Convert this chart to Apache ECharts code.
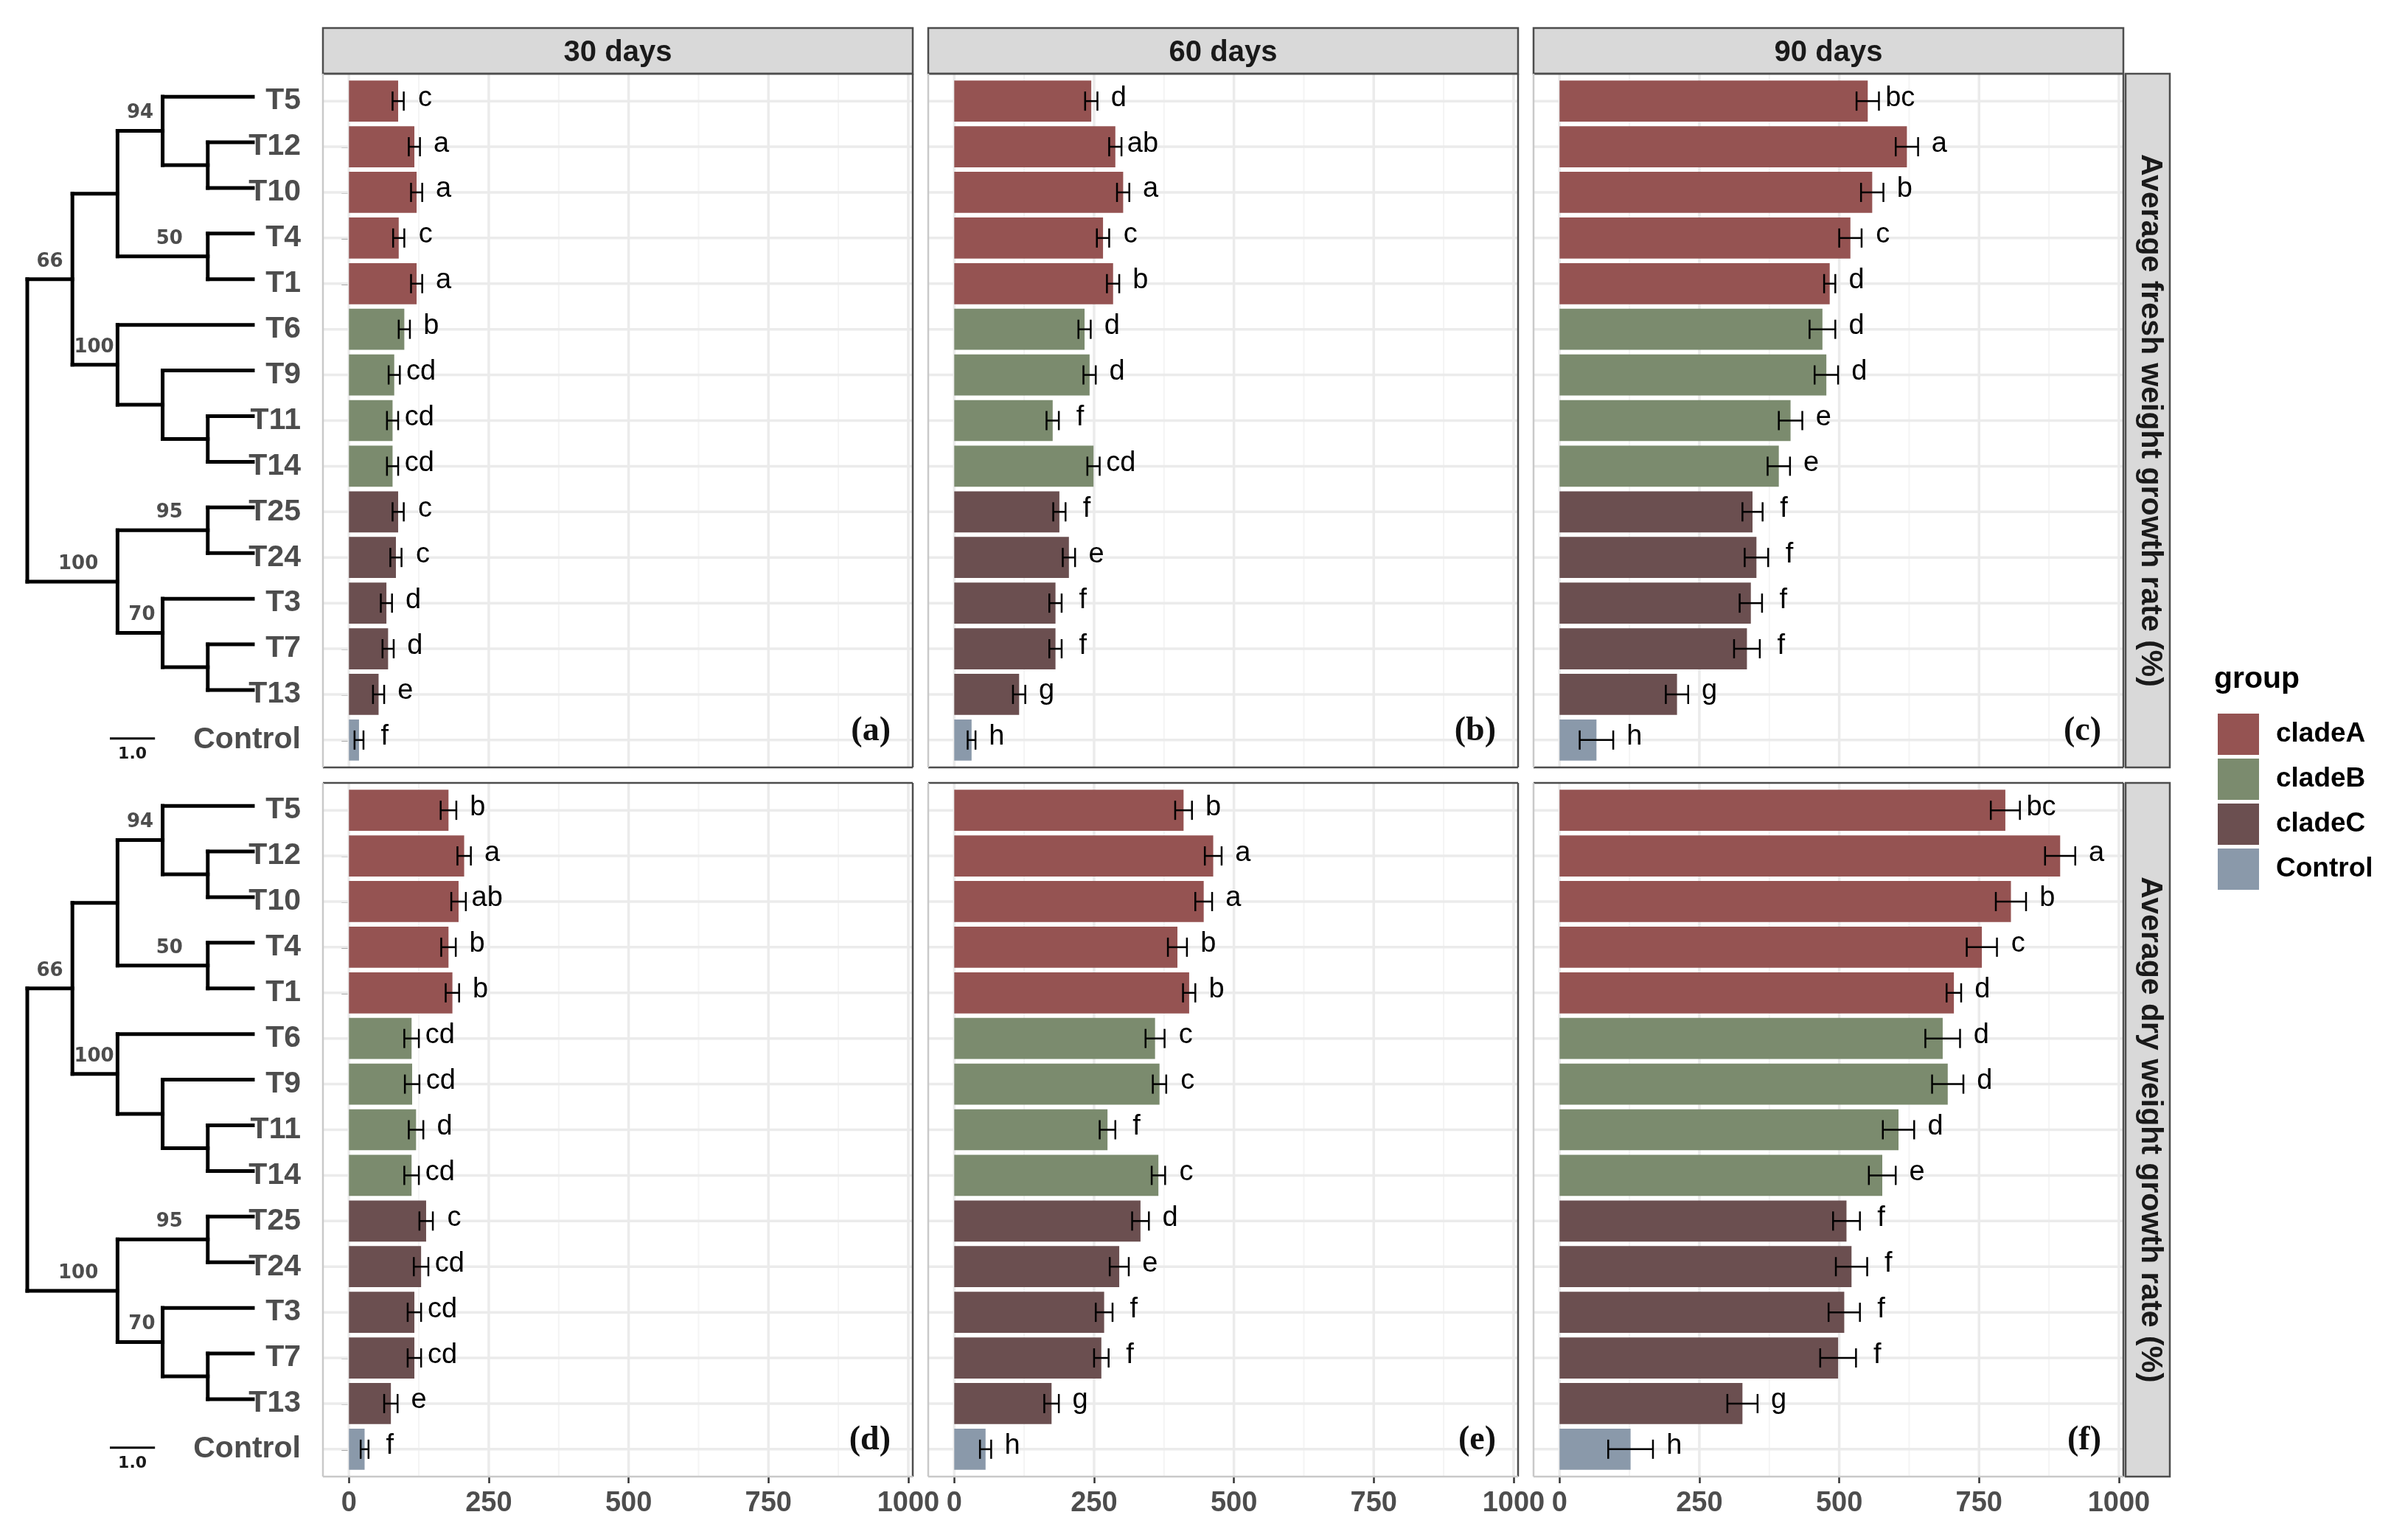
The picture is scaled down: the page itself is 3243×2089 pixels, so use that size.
<!DOCTYPE html>
<html>
<head>
<meta charset="utf-8">
<script src="https://cdn.jsdelivr.net/npm/echarts@6/dist/echarts.min.js"></script>
<style>html,body{margin:0;padding:0;background:#fff}#c{width:3243px;height:2089px}</style>
</head>
<body>
<div id="c"></div>
<script>
// ---------------- DATA ----------------
const categories = ['T5','T12','T10','T4','T1','T6','T9','T11','T14','T25','T24','T3','T7','T13','Control'];
const groups = ['cladeA','cladeA','cladeA','cladeA','cladeA','cladeB','cladeB','cladeB','cladeB','cladeC','cladeC','cladeC','cladeC','cladeC','Control'];
const groupNames = ['cladeA','cladeB','cladeC','Control'];

const fresh30     = [88,117,121,89,121,99,81,78,78,88,84,67,70,53,18];
const fresh30Err  = [10,10,10,10,10,10,10,10,10,10,10,10,10,10,8];
const fresh30Let  = ['c','a','a','c','a','b','cd','cd','cd','c','c','d','d','e','f'];

const fresh60     = [245,288,302,266,284,233,242,176,249,188,205,181,181,116,31];
const fresh60Err  = [11,11,11,11,11,11,11,11,11,11,11,11,11,11,7];
const fresh60Let  = ['d','ab','a','c','b','d','d','f','cd','f','e','f','f','g','h'];

const fresh90     = [551,621,559,520,483,470,477,413,392,345,352,342,335,210,66];
const fresh90Err  = [20,20,20,20,10,23,21,21,20,18,21,20,23,20,30];
const fresh90Let  = ['bc','a','b','c','d','d','d','e','e','f','f','f','f','g','h'];

const dry30       = [178,206,196,178,185,112,113,120,112,138,129,117,117,75,28];
const dry30Err    = [14,12,13,13,12,13,13,13,13,12,13,12,12,12,7];
const dry30Let    = ['b','a','ab','b','b','cd','cd','d','cd','c','cd','cd','cd','e','f'];

const dry60       = [410,463,446,399,420,359,367,274,365,333,295,268,263,174,56];
const dry60Err    = [15,15,15,17,11,17,12,14,12,15,17,15,13,13,10];
const dry60Let    = ['b','a','a','b','b','c','c','f','c','d','e','f','f','g','h'];

const dry90       = [797,895,807,755,705,685,694,606,577,513,522,509,498,327,127];
const dry90Err    = [26,27,27,27,13,31,28,28,24,24,28,28,32,27,40];
const dry90Let    = ['bc','a','b','c','d','d','d','d','e','f','f','f','f','g','h'];

const majorTicks = [0,250,500,750,1000];
const minorTicks = [125,375,625,875];
const stripTitles = ['30 days','60 days','90 days'];
const rowTitles = ['Average fresh weight growth rate (%)','Average dry weight growth rate (%)'];
const panelTags = ['(a)','(b)','(c)','(d)','(e)','(f)'];

// dendrogram (cladogram) topology; leaves sit at depth 5
const leafDepth = 5;
const treeNodes = [
  {id:'n1210', depth:4, children:['T12','T10']},
  {id:'n94',   depth:3, children:['T5','n1210'], support:'94', labelAt:2.5},
  {id:'n50',   depth:4, children:['T4','T1'], support:'50', labelAt:3.15},
  {id:'nA',    depth:2, children:['n94','n50']},
  {id:'n1114', depth:4, children:['T11','T14']},
  {id:'n9',    depth:3, children:['T9','n1114']},
  {id:'nB',    depth:2, children:['T6','n9'], support:'100', labelAt:1.48},
  {id:'nAB',   depth:1, children:['nA','nB'], support:'66', labelAt:0.5},
  {id:'n95',   depth:4, children:['T25','T24'], support:'95', labelAt:3.15},
  {id:'n713',  depth:4, children:['T7','T13']},
  {id:'n70',   depth:3, children:['T3','n713'], support:'70', labelAt:2.54},
  {id:'nC',    depth:2, children:['n95','n70'], support:'100', labelAt:1.13},
  {id:'root',  depth:0, children:['nAB','nC']}
];
const scaleBar = [1.83, 2.83]; // length 1.0
const scaleLabel = '1.0';

// ---------------- STYLE / LAYOUT ----------------
const FONT = 'Liberation Sans';
const groupColors = {cladeA:'#955352', cladeB:'#7B8B6E', cladeC:'#6B4F50', Control:'#8A99AA'};
const COLS = [438, 1259, 2080];
const PW = 800;
const ROWS = [100, 1062];
const PH = 941;
const INSET = PH / 15.2 * 0.1;
const XMIN = -46.5, XMAX = 1008;
const LETTER_GAP = 38;
const TREE_LEFT = 37, TREE_W = 306;

const panels = [
  {row:0,col:0,values:fresh30,errs:fresh30Err,letters:fresh30Let},
  {row:0,col:1,values:fresh60,errs:fresh60Err,letters:fresh60Let},
  {row:0,col:2,values:fresh90,errs:fresh90Err,letters:fresh90Let},
  {row:1,col:0,values:dry30,errs:dry30Err,letters:dry30Let},
  {row:1,col:1,values:dry60,errs:dry60Err,letters:dry60Let},
  {row:1,col:2,values:dry90,errs:dry90Err,letters:dry90Let}
];

// tree y positions (category index units)
const nodeY = {}, nodeDepth = {};
categories.forEach((c,i)=>{ nodeY[c]=i; nodeDepth[c]=leafDepth; });
treeNodes.forEach(n=>{ nodeDepth[n.id]=n.depth; });
function resolveY(id){
  if (nodeY[id] !== undefined) return nodeY[id];
  const n = treeNodes.find(t=>t.id===id);
  const ys = n.children.map(resolveY);
  nodeY[id] = ys.reduce((a,b)=>a+b,0)/ys.length;
  return nodeY[id];
}
treeNodes.forEach(n=>resolveY(n.id));

function yPix(api, f){
  const i0 = Math.floor(f), i1 = Math.ceil(f);
  const a = api.coord([0,i0])[1], b = api.coord([0,i1])[1];
  return a + (b-a)*(f-i0);
}

const grid=[], xAxis=[], yAxis=[], series=[], graphic=[];

panels.forEach((p,i)=>{
  const bottom = p.row===1;
  grid.push({left:COLS[p.col], top:ROWS[p.row]+INSET, width:PW, height:PH-2*INSET});
  xAxis.push({gridIndex:i, type:'value', min:XMIN, max:XMAX, offset: bottom?INSET:0,
    splitLine:{show:false}, axisLine:{show:false},
    axisTick:{show:bottom, customValues:majorTicks, length:9, lineStyle:{color:'#333',width:2.5}},
    axisLabel:{show:bottom, customValues:majorTicks, formatter:(v)=>String(v), fontSize:38, fontWeight:'bold', color:'#4d4d4d', fontFamily:FONT, margin:18}
  });
  yAxis.push({gridIndex:i, type:'category', data:categories, inverse:true,
    axisLine:{show:false}, splitLine:{show:false},
    axisTick:{show:p.col===0, alignWithLabel:true, interval:0, length:10, lineStyle:{color:'#333',width:2.5}},
    axisLabel:{show:p.col===0, interval:0, fontSize:41, fontWeight:'bold', color:'#4d4d4d', fontFamily:FONT, margin:30}
  });
  // vertical grid lines
  series.push({type:'custom', xAxisIndex:i, yAxisIndex:i, z:1, silent:true, clip:false,
    data: majorTicks.concat(minorTicks).map(v=>[v,0]),
    renderItem:(params,api)=>{
      const v = api.value(0);
      const a = api.coord([v,0]), b = api.coord([v,categories.length-1]);
      const band = api.size([0,1])[1];
      const major = majorTicks.indexOf(v) >= 0;
      return {type:'line', shape:{x1:a[0],y1:a[1]-0.6*band,x2:a[0],y2:b[1]+0.6*band},
        style:{stroke: major?'#EBEBEB':'#F4F4F4', lineWidth: major?3.5:2}};
    }});
  // horizontal grid lines
  series.push({type:'custom', xAxisIndex:i, yAxisIndex:i, z:1, silent:true, clip:false,
    data: categories.map((c,k)=>[XMIN,k]),
    renderItem:(params,api)=>{
      const k = params.dataIndex;
      const a = api.coord([XMIN,k]), b = api.coord([XMAX,k]);
      return {type:'line', shape:{x1:a[0],y1:a[1],x2:b[0],y2:b[1]}, style:{stroke:'#EBEBEB', lineWidth:3.5}};
    }});
  groupNames.forEach(g=>{
    series.push({type:'bar', name:g, xAxisIndex:i, yAxisIndex:i, stack:'s'+i, barWidth:'90%', z:2,
      itemStyle:{color:groupColors[g]},
      data: p.values.map((v,k)=> groups[k]===g ? v : '-')});
  });
  // error bars + letters
  series.push({type:'custom', xAxisIndex:i, yAxisIndex:i, z:3, silent:true, clip:false,
    data: p.values.map((v,k)=>[v,k]),
    renderItem:(params,api)=>{
      const k = params.dataIndex;
      const v = p.values[k], e = p.errs[k];
      const L = api.coord([v-e,k]), R = api.coord([v+e,k]);
      const band = api.size([0,1])[1];
      const h = 0.21*band;
      const T = api.coord([v+e+LETTER_GAP,k]);
      const st = {stroke:'#000', lineWidth:2.5};
      return {type:'group', children:[
        {type:'line', shape:{x1:L[0],y1:L[1],x2:R[0],y2:R[1]}, style:st},
        {type:'line', shape:{x1:L[0],y1:L[1]-h,x2:L[0],y2:L[1]+h}, style:st},
        {type:'line', shape:{x1:R[0],y1:R[1]-h,x2:R[0],y2:R[1]+h}, style:st},
        {type:'text', style:{text:p.letters[k], x:T[0], y:T[1]-4, fill:'#000', fontSize:38, fontFamily:FONT, align:'center', verticalAlign:'middle'}}
      ]};
    }});
});

// dendrograms
[0,1].forEach(r=>{
  const gi = panels.length + r;
  grid.push({left:TREE_LEFT, width:TREE_W, top:ROWS[r]+INSET-6, height:PH-2*INSET});
  xAxis.push({gridIndex:gi, type:'value', min:0, max:leafDepth, show:false});
  yAxis.push({gridIndex:gi, type:'category', data:categories, inverse:true, show:false});
  series.push({type:'custom', xAxisIndex:gi, yAxisIndex:gi, z:2, silent:true, clip:false,
    data: treeNodes.map(n=>[n.depth,0]),
    renderItem:(params,api)=>{
      const n = treeNodes[params.dataIndex];
      const x = api.coord([n.depth,0])[0];
      const st = {stroke:'#000', lineWidth:5, lineCap:'square'};
      const cys = n.children.map(c=>yPix(api,nodeY[c]));
      const kids = [{type:'line', shape:{x1:x,y1:Math.min(...cys),x2:x,y2:Math.max(...cys)}, style:st}];
      n.children.forEach((c,j)=>{
        const xc = api.coord([nodeDepth[c],0])[0];
        kids.push({type:'line', shape:{x1:x,y1:cys[j],x2:xc,y2:cys[j]}, style:st});
      });
      if (n.support){
        const lx = api.coord([n.labelAt,0])[0];
        kids.push({type:'text', style:{text:n.support, x:lx, y:yPix(api,nodeY[n.id])-24, fill:'#4d4d4d',
          fontSize:26, fontWeight:'bold', fontFamily:'DejaVu Sans', align:'center', verticalAlign:'middle'}});
      }
      return {type:'group', children:kids};
    }});
  series.push({type:'custom', xAxisIndex:gi, yAxisIndex:gi, z:2, silent:true, clip:false,
    data: [[scaleBar[0],0]],
    renderItem:(params,api)=>{
      const a = api.coord([scaleBar[0],0])[0], b = api.coord([scaleBar[1],0])[0];
      const y = yPix(api, categories.length-1) + 4;
      return {type:'group', children:[
        {type:'line', shape:{x1:a,y1:y,x2:b,y2:y}, style:{stroke:'#000', lineWidth:3}},
        {type:'text', style:{text:scaleLabel, x:(a+b)/2, y:y+21, fill:'#1a1a1a', fontSize:22, fontWeight:'bold', fontFamily:'DejaVu Sans', align:'center', verticalAlign:'middle'}}
      ]};
    }});
});

// strips, borders, tags
const DARK = '#4d4d4d', LIGHT = '#c9c9c9';
COLS.forEach((x,c)=>{
  graphic.push({type:'rect', z:50, shape:{x:x, y:38, width:PW, height:ROWS[0]-38}, style:{fill:'#D9D9D9', stroke:DARK, lineWidth:2.5}});
  graphic.push({type:'text', z:51, x:x+PW/2, y:(38+ROWS[0])/2+3, style:{text:stripTitles[c], fontSize:40, fontWeight:'bold', fontFamily:FONT, fill:'#1a1a1a', align:'center', verticalAlign:'middle'}});
});
ROWS.forEach((y,r)=>{
  const sx = COLS[2]+PW+3;
  graphic.push({type:'rect', z:50, shape:{x:sx, y:y, width:60, height:PH}, style:{fill:'#D9D9D9', stroke:DARK, lineWidth:2.5}});
  graphic.push({type:'text', z:51, x:sx+33, y:y+PH/2, rotation:-Math.PI/2, style:{text:rowTitles[r], fontSize:41, fontWeight:'bold', fontFamily:FONT, fill:'#1a1a1a', align:'center', verticalAlign:'middle'}});
});
panels.forEach((p,i)=>{
  const x0 = COLS[p.col], y0 = ROWS[p.row], x1 = x0+PW, y1 = y0+PH;
  const ln = (a,b,c,d,col)=>graphic.push({type:'line', z:60, shape:{x1:a,y1:b,x2:c,y2:d}, style:{stroke:col, lineWidth:2.5}});
  ln(x0,y0,x1,y0,DARK);
  ln(x1,y0,x1,y1,DARK);
  ln(x0,y1,x1,y1,p.row===1?LIGHT:DARK);
  ln(x0,y0,x0,y1,LIGHT);
  graphic.push({type:'text', z:61, x:x1-30, y:y1-49, style:{text:panelTags[i], fontSize:46, fontWeight:'bold', fontFamily:'Liberation Serif', fill:'#111', align:'right', verticalAlign:'middle'}});
});
graphic.push({type:'text', z:61, x:3003, y:922, style:{text:'group', fontSize:41, fontWeight:'bold', fontFamily:FONT, fill:'#000', align:'left', verticalAlign:'middle'}});

const option = {
  animation:false,
  backgroundColor:'#fff',
  textStyle:{fontFamily:FONT},
  legend:{data:groupNames, orient:'vertical', left:3003, top:963, itemWidth:56, itemHeight:56, itemGap:5, icon:'rect', selectedMode:false,
    textStyle:{fontSize:37, fontWeight:'bold', color:'#000', fontFamily:FONT, padding:[0,0,0,18]}},
  grid, xAxis, yAxis, series, graphic
};
const chart = echarts.init(document.getElementById('c'));
chart.setOption(option);
</script>
</body>
</html>
